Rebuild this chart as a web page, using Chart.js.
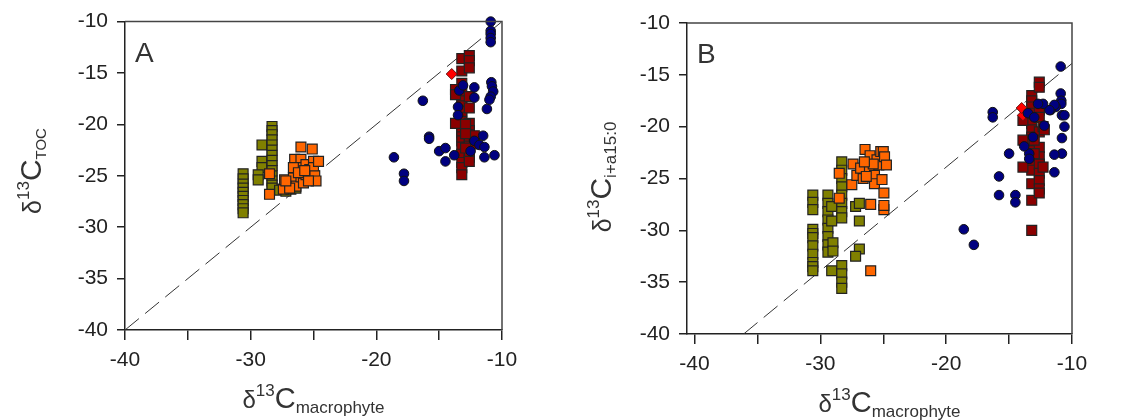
<!DOCTYPE html>
<html>
<head>
<meta charset="utf-8">
<script src="https://cdn.jsdelivr.net/npm/chart.js@4.4.1/dist/chart.umd.min.js"></script>
<style>
  html, body { margin: 0; padding: 0; background: #fff; }
  #wrap { position: relative; width: 1139px; height: 420px; }
  canvas { position: absolute; top: 0; }
</style>
</head>
<body>
<div id="wrap">
  <canvas id="chartA" width="570" height="420" style="left:0"></canvas>
  <canvas id="chartB" width="569" height="420" style="left:570px"></canvas>
</div>
<script>
// d13C scatter: macrophyte vs TOC (A) and vs i+a15:0 fatty acids (B)

// ==================== DATA ====================
const xTicks = [-40, -35, -30, -25, -20, -15, -10];
const yTicks = [-40, -35, -30, -25, -20, -15, -10];

// Panel A  [x, y]
const oliveA = [
  [-30.6,-24.8],[-30.6,-25.3],[-30.6,-25.8],[-30.6,-26.2],[-30.6,-26.6],[-30.6,-27.0],[-30.6,-27.4],[-30.6,-27.8],[-30.6,-28.2],[-30.6,-28.6],
  [-29.1,-22.0],[-29.1,-23.6],[-29.1,-24.2],[-29.4,-24.9],[-29.4,-25.4],
  [-28.3,-20.2],[-28.3,-20.6],[-28.3,-21.0],[-28.3,-21.5],[-28.3,-22.0],[-28.3,-22.5],[-28.3,-23.0],[-28.3,-23.5],
  [-28.3,-24.0],[-28.3,-24.5],[-28.3,-25.0],[-28.3,-25.5],[-28.3,-25.9],[-28.3,-26.2],
  [-27.7,-26.4],[-27.2,-26.5],[-26.8,-26.3],[-26.4,-26.2]
];
const orangeA = [
  [-28.5,-24.8],[-28.5,-26.8],[-27.4,-26.3],[-27.3,-25.4],[-26.9,-25.7],[-26.6,-25.2],[-26.5,-23.4],[-26.4,-26.0],
  [-26.0,-22.2],[-26.0,-23.4],[-26.0,-24.2],[-26.0,-25.1],[-25.8,-25.7],[-25.6,-23.9],[-25.6,-24.9],[-25.3,-24.4],
  [-25.1,-22.4],[-25.0,-23.6],[-25.0,-24.2],[-24.9,-25.0],[-24.8,-25.5],[-24.6,-23.6],[-26.6,-24.2],[-26.2,-24.7],
  [-26.9,-26.2],[-27.2,-25.5],[-25.4,-25.5],[-25.7,-24.5]
];
const darkRedA = [
  [-13.2,-13.6],[-13.2,-14.8],[-13.2,-16.0],[-13.2,-16.9],[-13.2,-17.7],[-13.2,-18.2],[-13.2,-18.7],[-13.2,-19.3],
  [-13.2,-19.7],[-13.2,-20.1],[-13.2,-20.5],[-13.2,-20.8],[-13.2,-21.2],[-13.2,-21.6],[-13.2,-22.2],[-13.2,-22.9],
  [-13.2,-23.7],[-13.2,-24.2],[-13.2,-24.9],
  [-12.6,-13.3],[-12.6,-13.8],[-12.6,-14.5],[-12.6,-17.3],[-12.6,-18.4],[-12.6,-19.9],[-12.6,-20.6],[-12.6,-21.0],
  [-12.6,-21.6],[-12.6,-22.1],[-12.6,-22.6],[-12.6,-23.2],[-12.6,-23.6],
  [-13.7,-16.6],[-13.7,-17.1],[-13.7,-19.9],[-12.2,-21.1],[-12.2,-21.9],[-12.9,-20.0],[-12.9,-20.9],[-12.9,-22.3]
];
const redA = [[-14.0,-15.1]];
const navyA = [
  [-10.9,-10.0],[-10.9,-10.9],[-10.9,-11.2],[-10.9,-11.6],[-10.9,-12.0],[-10.85,-15.9],[-10.8,-16.3],[-10.7,-16.8],
  [-10.9,-17.3],[-11.0,-17.6],[-11.2,-18.5],[-16.3,-17.7],[-15.8,-21.2],[-15.8,-21.4],[-18.6,-23.2],[-17.8,-24.8],
  [-17.8,-25.5],[-15.0,-22.6],[-14.5,-22.3],[-14.5,-23.6],[-13.8,-23.0],[-13.5,-18.3],[-13.5,-19.1],[-13.4,-16.7],
  [-13.1,-16.2],[-12.2,-16.4],[-12.2,-17.4],[-12.5,-22.6],[-12.2,-21.6],[-11.8,-22.0],[-11.5,-21.1],[-11.4,-22.2],
  [-11.4,-23.2],[-10.6,-23.0]
];
const diagAX = [-40, -10];
const diagAY = [-40, -10];

// Panel B  [x, y]
const oliveB = [
  [-30.6,-26.6],[-30.6,-27.3],[-30.6,-28.0],[-30.6,-29.9],[-30.6,-30.3],[-30.6,-30.7],[-30.6,-31.5],[-30.6,-32.3],
  [-30.6,-33.1],[-30.6,-33.5],[-30.6,-33.9],
  [-29.4,-26.6],[-29.4,-27.4],[-29.4,-28.2],[-29.4,-29.0],[-29.4,-29.8],[-29.4,-30.6],[-29.4,-31.4],[-29.4,-32.1],
  [-29.1,-27.7],[-29.1,-29.1],[-29.1,-33.9],[-29.0,-31.2],[-29.0,-32.0],
  [-28.3,-23.4],[-28.3,-24.2],[-28.3,-25.0],[-28.3,-25.8],[-28.3,-26.6],[-28.3,-27.4],[-28.3,-28.2],[-28.3,-28.8],
  [-28.3,-33.4],[-28.3,-34.2],[-28.3,-35.0],[-28.3,-35.6],
  [-27.2,-27.7],[-26.9,-27.4],[-26.9,-29.1],[-26.9,-31.8],[-27.2,-32.5]
];
const orangeB = [
  [-28.5,-24.5],[-28.5,-26.9],[-27.4,-23.6],[-27.5,-25.6],[-27.1,-24.7],[-26.8,-24.0],[-26.45,-22.2],[-26.6,-25.0],
  [-26.05,-22.8],[-26.1,-23.9],[-26.0,-27.5],[-26.0,-33.9],[-25.7,-24.7],[-25.7,-25.5],[-25.5,-23.2],[-25.35,-23.7],
  [-25.2,-22.4],[-25.0,-22.4],[-24.9,-22.9],[-24.75,-23.7],[-25.1,-25.1],[-24.95,-26.4],[-24.95,-28.0],[-26.35,-24.8],
  [-25.8,-23.6],[-26.5,-23.4],[-24.95,-27.6]
];
const darkRedB = [
  [-13.2,-17.0],[-13.2,-17.5],[-13.2,-18.1],[-13.2,-18.7],[-13.2,-19.7],[-13.2,-20.3],[-13.2,-21.0],[-13.2,-21.6],
  [-13.2,-22.3],[-13.2,-22.9],[-13.2,-23.6],[-13.2,-24.2],[-13.2,-25.5],[-13.2,-27.1],[-13.2,-30.0],
  [-12.6,-15.7],[-12.6,-16.2],[-12.6,-18.4],[-12.6,-19.1],[-12.6,-20.5],[-12.6,-22.0],[-12.6,-22.9],[-12.6,-23.6],
  [-12.6,-24.5],[-12.6,-25.2],[-12.6,-26.0],[-12.6,-26.4],
  [-13.9,-19.4],[-13.9,-21.3],[-13.9,-23.9],[-13.0,-21.3],[-13.0,-22.6],[-12.3,-23.9],[-12.3,-20.0],[-12.2,-20.3]
];
const redB = [[-13.9,-18.9],[-14.0,-18.2]];
const navyB = [
  [-10.9,-14.2],[-10.9,-16.8],[-10.85,-17.5],[-10.85,-17.8],[-11.3,-18.1],[-11.7,-18.4],[-10.8,-18.9],[-10.6,-18.9],
  [-10.6,-20.0],[-10.8,-21.1],[-10.8,-22.6],[-11.4,-22.7],[-11.4,-24.4],[-11.4,-17.9],[-11.8,-18.4],[-12.3,-17.8],
  [-12.7,-17.8],[-12.2,-19.9],[-13.1,-21.0],[-13.5,-18.7],[-13.4,-22.6],[-13.4,-23.1],[-13.8,-21.9],[-16.3,-18.6],
  [-16.3,-19.1],[-15.0,-22.6],[-15.8,-24.8],[-15.8,-26.6],[-14.5,-26.6],[-14.5,-27.3],[-18.6,-29.9],[-17.8,-31.4],
  [-13.0,-19.1]
];
const diagBX = [-36.1, -10];
const diagBY = [-40, -13.9];

// ==================== HELPERS ====================
const FONT = '"Liberation Sans", Arial, sans-serif';
const INK = '#222';
const toPts = arr => arr.map(([x, y]) => ({ x, y }));
const zipPts = (xs, ys) => xs.map((x, i) => ({ x, y: ys[i] }));

function richText(ctx, parts, cx, cy, rotate) {
    ctx.save();
    ctx.translate(cx, cy);
    if (rotate) ctx.rotate(-Math.PI / 2);
    let total = 0;
    parts.forEach(p => { ctx.font = p.size + 'px ' + FONT; p.w = ctx.measureText(p.t).width; total += p.w; });
    let x = -total / 2;
    ctx.fillStyle = '#333';
    ctx.textAlign = 'left';
    ctx.textBaseline = 'alphabetic';
    parts.forEach(p => { ctx.font = p.size + 'px ' + FONT; ctx.fillText(p.t, x, p.dy || 0); x += p.w; });
    ctx.restore();
}

function sq(label, pts, color) {
    return { label, data: toPts(pts), pointStyle: 'rect', pointRadius: 7, backgroundColor: color, borderColor: INK, borderWidth: 1.2, clip: false };
}

function makePanel(id, cfg) {
    const decor = {
        id: 'decor',
        afterDraw(chart) {
            const { ctx, chartArea: a } = chart;
            ctx.save();
            ctx.strokeStyle = '#444';
            ctx.lineWidth = 1.5;
            ctx.beginPath();
            ctx.moveTo(a.left, a.top); ctx.lineTo(a.right, a.top); ctx.lineTo(a.right, a.bottom);
            ctx.stroke();
            ctx.fillStyle = '#333';
            ctx.font = '28px ' + FONT;
            ctx.fillText(cfg.letter, a.left + 10, a.top + 40);
            ctx.restore();
            richText(ctx, [
                { t: 'δ', size: 24 }, { t: '13', size: 17, dy: -12 }, { t: 'C', size: 29 }, { t: 'macrophyte', size: 17, dy: 5 }
            ], (a.left + a.right) / 2 + cfg.xTitleShift, a.bottom + 78, false);
            richText(ctx, [
                { t: 'δ', size: 25 }, { t: '13', size: 17, dy: -12 }, { t: 'C', size: 30 }, { t: cfg.ySub, size: cfg.ySubSize, dy: 5 }
            ], 41, cfg.yTitleMid, true);
        }
    };
    return new Chart(document.getElementById(id), {
        type: 'scatter',
        data: {
            datasets: [
                { label: 'navy', data: toPts(cfg.navy), pointStyle: 'circle', pointRadius: 4.8, backgroundColor: '#000080', borderColor: '#111', borderWidth: 1, clip: false },
                { label: 'red', data: toPts(cfg.red), pointStyle: 'rectRot', pointRadius: 5.5, backgroundColor: '#ff0000', borderColor: '#661111', borderWidth: 1, clip: false },
                sq('darkred', cfg.darkRed, '#8b0000'),
                sq('orange', cfg.orange, '#ff6600'),
                sq('olive', cfg.olive, '#808000'),
                { label: '1:1', data: cfg.diag, showLine: true, pointRadius: 0, borderColor: '#333', borderWidth: 1, borderDash: [18, 8] }
            ]
        },
        options: {
            responsive: false,
            devicePixelRatio: 1,
            animation: false,
            layout: { padding: { top: cfg.top, right: cfg.right, left: 0, bottom: 0 } },
            plugins: { legend: { display: false }, tooltip: { enabled: false } },
            scales: {
                x: {
                    type: 'linear', min: cfg.xMin, max: -10,
                    afterBuildTicks: s => { s.ticks = xTicks.map(v => ({ value: v })); },
                    afterFit: s => { s.height = cfg.xAxisH; },
                    ticks: { callback: v => (v % 10 === 0 ? String(v) : ''), font: { size: 21, family: FONT }, color: INK, padding: 8, maxRotation: 0, autoSkip: false },
                    grid: { drawOnChartArea: false, tickLength: 10, color: INK, lineWidth: 1.5 },
                    border: { color: INK, width: 1.5 }
                },
                y: {
                    type: 'linear', min: -40, max: -10,
                    afterBuildTicks: s => { s.ticks = yTicks.map(v => ({ value: v })); },
                    afterFit: s => { s.width = cfg.yAxisW; },
                    ticks: { font: { size: 21, family: FONT }, color: INK, padding: 9 },
                    grid: { drawOnChartArea: false, tickLength: 8, color: INK, lineWidth: 1.5 },
                    border: { color: INK, width: 1.5 }
                }
            }
        },
        plugins: [decor]
    });
}

// ==================== CHARTS ====================
makePanel('chartA', {
    letter: 'A', navy: navyA, red: redA, darkRed: darkRedA, orange: orangeA, olive: oliveA,
    diag: zipPts(diagAX, diagAY), xMin: -40, top: 19, right: 68, xAxisH: 90, yAxisW: 125,
    ySub: 'TOC', ySubSize: 15, yTitleMid: 171, xTitleShift: 0
});
makePanel('chartB', {
    letter: 'B', navy: navyB, red: redB, darkRed: darkRedB, orange: orangeB, olive: oliveB,
    diag: zipPts(diagBX, diagBY), xMin: -40.6, top: 23, right: 67, xAxisH: 86, yAxisW: 117,
    ySub: 'i+a15:0', ySubSize: 17, yTitleMid: 177, xTitleShift: 10
});
</script>
</body>
</html>
